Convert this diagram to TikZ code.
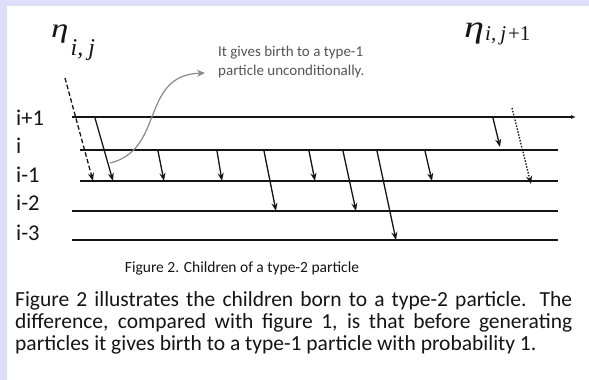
\documentclass[tikz,border=0pt]{standalone}
\usepackage{fontspec}
\setmainfont{Carlito}
\newfontfamily\etafont{Liberation Serif}
\newfontfamily\etawide[FakeStretch=1.3]{Liberation Serif}
\usepackage{tikz}
\usetikzlibrary{arrows.meta,positioning}
\definecolor{FLav}{HTML}{DEDEFA}
\definecolor{FInk}{HTML}{151515}
\definecolor{FGray}{HTML}{8A8A8A}
\definecolor{FNote}{HTML}{555555}
\newcommand{\subat}[3]{\lower#1\hbox{\etafont\itshape\fontsize{#2}{#2}\selectfont #3}}

\begin{document}
\begin{tikzpicture}[
  x=1pt,y=-1pt,
  lvl/.style={draw=FInk,line width=1.5pt},
  lab/.style={anchor=base west,inner sep=0pt,font=\fontsize{22.5}{22.5}\selectfont,text=FInk},
  kid/.style={-{Stealth[length=8pt,width=6pt]},draw=FInk,line width=1.3pt},
  ghost/.style={kid,dash pattern=on 4.5pt off 2.5pt},
  nextdot/.style={kid,dash pattern=on 1.5pt off 1.5pt},
  curl/.style={-{Stealth[length=8pt,width=7pt]},draw=FGray,line width=1.2pt},
  eta/.style={anchor=base west,inner sep=0pt,text=FInk}
]
  \fill[FLav] (0,0) rectangle (589,380);
  \fill[white] (7,6) rectangle (589,380);
  \useasboundingbox (0,0) rectangle (589,380);

  % time labels
  \node[eta,font=\etawide\itshape\fontsize{27}{27}\selectfont] (etaA) at (51,37)
    {η\subat{18pt}{24}{\kern2pt i,\kern5pt j}};
  \node[eta,font=\etawide\itshape\fontsize{31}{31}\selectfont] (etaB) at (464,37)
    {η\subat{3pt}{21}{\kern1pt i,\kern4pt j\kern2pt\upshape+1}};

  % generation lines
  \coordinate (l1w) at (72,117); \coordinate (l1e) at (576,117);
  \coordinate (l2w) at (80,150); \coordinate (l2e) at (558,150);
  \coordinate (l3w) at (80,181); \coordinate (l3e) at (558,181);
  \coordinate (l4w) at (72,211); \coordinate (l4e) at (558,211);
  \coordinate (l5w) at (72,240); \coordinate (l5e) at (558,240);
  \draw[lvl,-{Latex[length=5pt,width=4pt]}] (l1w) -- (l1e);
  \foreach \k in {2,...,5}
    \draw[lvl] (l\k w) -- (l\k e);

  \node[lab] (g1) at (16,125) {i+1};
  \node[lab] (g2) at (16,153) {i};
  \node[lab] (g3) at (16,182) {i-1};
  \node[lab] (g4) at (16,210) {i-2};
  \node[lab] (g5) at (16,240) {i-3};

  % children
  \foreach \n/\xs/\ys/\xe/\ye in {
      a/95/118/113/181, b/158/151/164/181, c/217/151/222/181,
      d/264/151/276/211, e/309/151/315/181, f/343/151/356/211,
      g/377/151/396/240, h/425/151/432/181, k/493/118/500/147} {
    \coordinate (s\n) at (\xs,\ys);
    \coordinate (e\n) at (\xe,\ye);
    \draw[kid] (s\n) -- (e\n);
  }
  \coordinate (dashS) at (65,78);
  \coordinate (dashE) at (93,181);
  \draw[ghost] (dashS) -- (dashE);
  \coordinate (dotS) at (512,108);
  \coordinate (dotE) at (531,184);
  \draw[nextdot] (dotS) -- (dotE);

  % note
  \node[anchor=north west,inner sep=0pt,align=left,text=FNote,
    font=\fontsize{15}{19}\selectfont] (note) at (218,46)
    {It gives birth to a type-1\\particle unconditionally.};
  \coordinate (curlS) at (110,163);
  \coordinate (curlE) at (205,73);
  \draw[curl] (curlS) .. controls (165,150) and (140,75) .. (curlE);

  % caption and text
  \node[font=\fontsize{15.5}{15.5}\selectfont,text=FInk] (cap) at (242,268)
    {Figure 2. Children of a type-2 particle};
  \node[anchor=north west,inner sep=0pt,text width=557pt,align=justify,
    font=\fontsize{21.5}{22}\selectfont,text=FInk] (para) at (15,291)
    {Figure 2 illustrates the children born to a type-2 particle. The\linebreak
     difference, compared with figure 1, is that before generating\linebreak
     particles it gives birth to a type-1 particle with probability 1.};
\end{tikzpicture}
\end{document}
